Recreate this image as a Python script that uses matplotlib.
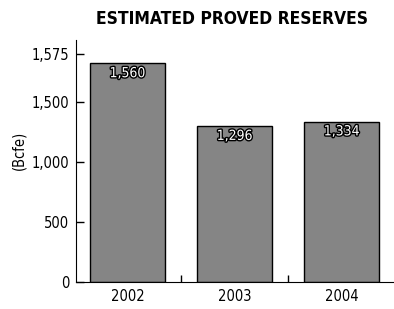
import numpy as np
import matplotlib
matplotlib.use("Agg")
import matplotlib.pyplot as plt
import matplotlib.patheffects as pe

years = ["2002", "2003", "2004"]
reserves = [1560, 1296, 1334]
value_labels = ["1,560", "1,296", "1,334"]
ytick_vals = [0, 500, 1000, 1500, 1575]
ytick_labels = ["0", "500", "1,000", "1,500", "1,575"]

plt.rcParams['font.family'] = ['DejaVu Sans']
plt.rcParams['font.stretch'] = 'condensed'

# axis above 1,500 is stretched like in the original report
K = 5.3
def fwd(y):
    y = np.asarray(y, dtype=float)
    return np.where(y <= 1500, y, 1500 + (y - 1500) * K)

def inv(y):
    y = np.asarray(y, dtype=float)
    return np.where(y <= 1500, y, 1500 + (y - 1500) / K)

fig = plt.figure(figsize=(3.94, 3.09), dpi=100)
ax = fig.add_axes([0.193, 0.088, 0.807, 0.783])
ax.set_yscale('function', functions=(fwd, inv))

x = np.arange(len(years))
bars = ax.bar(x, reserves, width=0.7, color='#858585', edgecolor='black', linewidth=1.0)

for xi, v, lab in zip(x, reserves, value_labels):
    ax.annotate(lab, (xi, v), xytext=(0, -2), textcoords='offset points',
                ha='center', va='top', fontsize=10, color='white',
                path_effects=[pe.withStroke(linewidth=2, foreground='black')])

ax.set_xlim(-0.48, 2.49)
ax.set_ylim(0, 1597)
ax.set_yticks(ytick_vals)
ax.set_yticklabels(ytick_labels)
ax.set_xticks(x)
ax.set_xticklabels(years)
ax.set_xticks([0.5, 1.5], minor=True)
ax.tick_params(axis='y', direction='in', length=6, width=1, labelsize=10.5, pad=5)
ax.tick_params(axis='x', which='major', length=0, labelsize=10.5, pad=5)
ax.tick_params(axis='x', which='minor', direction='in', length=5, width=1)
ax.spines['top'].set_visible(False)
ax.spines['right'].set_visible(False)
ax.set_ylabel("(Bcfe)", fontsize=10.5)
ax.yaxis.set_label_coords(-0.155, 0.545)
fig.text(0.59, 0.94, "ESTIMATED PROVED RESERVES", ha='center', va='center',
         fontsize=12.5, fontweight='bold')

fig.savefig("out.png", dpi=100)
